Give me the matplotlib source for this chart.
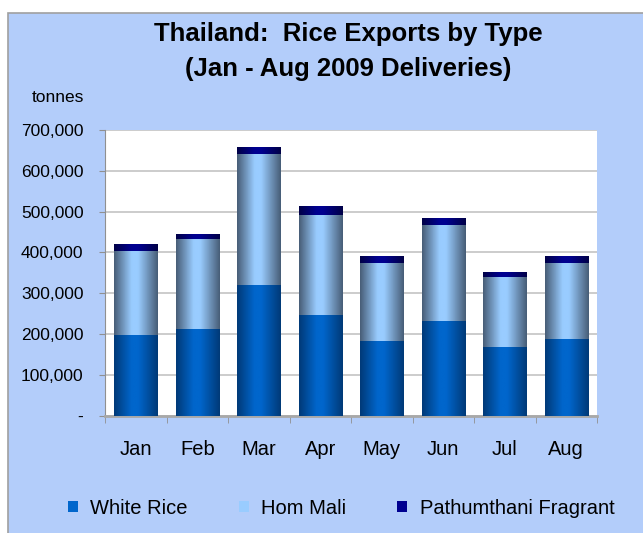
import matplotlib.pyplot as plt
import numpy as np
from matplotlib.colors import LinearSegmentedColormap
from matplotlib.patches import Rectangle, Patch
from matplotlib.ticker import FuncFormatter, FixedLocator

months = ["Jan", "Feb", "Mar", "Apr", "May", "Jun", "Jul", "Aug"]
white_rice = [198000, 212000, 321000, 247000, 184000, 232000, 168000, 188000]
hom_mali = [205000, 222000, 319000, 245000, 191000, 235000, 173000, 187000]
pathumthani = [17000, 11000, 16000, 22000, 16000, 17000, 11000, 16000]

# (edge colour, centre colour) for the horizontal bar shading
shades = {
    "White Rice": ("#003A78", "#0066CC"),
    "Hom Mali": ("#485E78", "#99CCFF"),
    "Pathumthani Fragrant": ("#000048", "#000090"),
}

plt.rcParams["font.family"] = ["Liberation Sans", "DejaVu Sans"]

fig = plt.figure(figsize=(6.43, 5.33), dpi=100)
fig.patch.set_facecolor("white")
fig.add_artist(Rectangle((8 / 643, -0.01), 1, (533 - 13) / 533 + 0.01,
                         transform=fig.transFigure, facecolor="#B3CDFA",
                         edgecolor="#A0A0A0", linewidth=1.2, zorder=0))

ax = fig.add_axes([105 / 643, (533 - 415.7) / 533, 492 / 643, 285.7 / 533])
ax.set_facecolor("white")

x = np.arange(len(months))
width = 0.7
bottom = np.zeros(len(months))
series = [("White Rice", white_rice), ("Hom Mali", hom_mali),
          ("Pathumthani Fragrant", pathumthani)]

grad = np.linspace(0, 1, 64).reshape(1, -1)
for name, vals in series:
    edge, centre = shades[name]
    cmap = LinearSegmentedColormap.from_list(
        name, [(0, edge), (0.4, centre), (0.55, centre), (1, edge)])
    bars = ax.bar(x, vals, width, bottom=bottom, color=centre, zorder=2)
    for p in bars:
        bx, by = p.get_x(), p.get_y()
        ax.imshow(grad, cmap=cmap, aspect="auto", zorder=3,
                  extent=[bx, bx + p.get_width(), by, by + p.get_height()])
    bottom += np.array(vals)

ax.set_xlim(-0.5, len(months) - 0.5)
ax.set_ylim(0, 700000)
ax.yaxis.set_major_locator(FixedLocator(np.arange(0, 700001, 100000)))
ax.yaxis.set_major_formatter(FuncFormatter(lambda v, _: "-" if v == 0 else f"{int(v):,}"))
ax.set_xticks(x)
ax.set_xticklabels(months, fontsize=14.5)
ax.xaxis.set_minor_locator(FixedLocator(np.arange(-0.5, len(months), 1)))
ax.tick_params(axis="x", which="major", length=0, pad=17.5)
ax.tick_params(axis="x", which="minor", length=5, color="#909090", direction="out")
ax.tick_params(axis="y", length=4.5, color="#909090", labelsize=12.5, pad=11)
ax.grid(axis="y", color="#C4C4C4", linewidth=1.2, zorder=1)
ax.set_axisbelow(True)
for s in ["top", "right"]:
    ax.spines[s].set_visible(False)
ax.spines["left"].set_color("#909090")
ax.spines["bottom"].set_color("#A8A8A8")
ax.spines["bottom"].set_linewidth(2)

fig.text(348 / 643, 1 - 34 / 533, "Thailand:  Rice Exports by Type",
         ha="center", va="center", fontsize=18.5, fontweight="bold")
fig.text(348 / 643, 1 - 69 / 533, "(Jan - Aug 2009 Deliveries)",
         ha="center", va="center", fontsize=18.5, fontweight="bold")
fig.text(32 / 643, 1 - 97 / 533, "tonnes", ha="left", va="center", fontsize=12.5)

handles = [Patch(facecolor=shades[n][1], label=n) for n, _ in series]
fig.legend(handles=handles, loc="center", bbox_to_anchor=(341 / 643, 1 - 508 / 533),
           ncol=3, frameon=False, fontsize=14.5, handlelength=0.5, handleheight=0.5,
           handletextpad=0.6, columnspacing=2.55)

fig.savefig("out.png", dpi=100)
